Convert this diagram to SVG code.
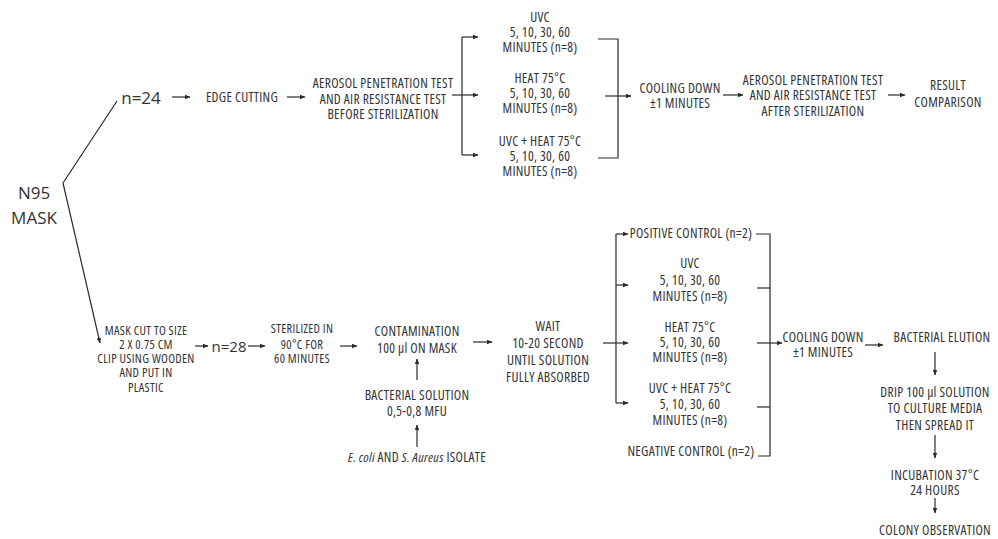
<svg xmlns="http://www.w3.org/2000/svg" width="998" height="539" viewBox="0 0 998 539">
<defs>
<marker id="ah" markerWidth="6" markerHeight="6" refX="5" refY="3" orient="auto" markerUnits="userSpaceOnUse"><path d="M0,0.8 L5.5,3 L0,5.2 z" fill="#2a2a2a"/></marker>
<style>
text{font-family:"Open Sans","DejaVu Sans",sans-serif;fill:#333;font-size:13.5px;font-stretch:75%;letter-spacing:0.3px;text-anchor:middle;dominant-baseline:central}
.big{font-size:17px;font-stretch:100%;letter-spacing:0}
.mid{font-size:15px}
.sm{font-size:12.5px}
line,polyline{stroke:#2a2a2a;stroke-width:1.2;fill:none}
.a{marker-end:url(#ah)}
</style>
</defs>
<rect width="998" height="539" fill="#fff"/>
<g id="connectors">
<polyline class="a" points="117,101 63,183 100,343"/>
<line class="a" x1="172" y1="97" x2="190" y2="97"/>
<line class="a" x1="287" y1="97" x2="305" y2="97"/>
<line x1="452" y1="95" x2="462" y2="95"/>
<line x1="462" y1="37" x2="462" y2="155"/>
<line class="a" x1="462" y1="37" x2="478" y2="37"/>
<line class="a" x1="462" y1="95" x2="478" y2="95"/>
<line class="a" x1="462" y1="155" x2="478" y2="155"/>
<polyline points="598,39 618,39 618,158 598,158"/>
<line class="a" x1="605" y1="96" x2="631" y2="96"/>
<line class="a" x1="723" y1="95" x2="743" y2="95"/>
<line class="a" x1="888" y1="95" x2="905" y2="95"/>
<line class="a" x1="195" y1="346" x2="208" y2="346"/>
<line class="a" x1="248" y1="346" x2="265" y2="346"/>
<line class="a" x1="340" y1="346" x2="357" y2="346"/>
<line class="a" x1="417" y1="380" x2="417" y2="359"/>
<line class="a" x1="417" y1="447" x2="417" y2="425"/>
<line class="a" x1="473" y1="342" x2="492" y2="342"/>
<line x1="603" y1="343" x2="616" y2="343"/>
<line x1="616" y1="234" x2="616" y2="403"/>
<line class="a" x1="616" y1="234" x2="628" y2="234"/>
<line class="a" x1="616" y1="285" x2="628" y2="285"/>
<line class="a" x1="616" y1="343" x2="628" y2="343"/>
<line class="a" x1="616" y1="403" x2="628" y2="403"/>
<polyline points="756,234 770,234 770,456 758,456"/>
<line x1="757" y1="288" x2="770" y2="288"/>
<line x1="757" y1="407" x2="770" y2="407"/>
<line class="a" x1="757" y1="343" x2="782" y2="343"/>
<line class="a" x1="865" y1="345" x2="883" y2="345"/>
<line class="a" x1="935" y1="352" x2="935" y2="375"/>
<line class="a" x1="935" y1="435" x2="935" y2="458"/>
<line class="a" x1="935" y1="498" x2="935" y2="513"/>
</g>
<g id="n95"><text class="big"><tspan x="34" y="192">N95</tspan><tspan x="34" y="217">MASK</tspan></text></g>
<g id="n24"><text class="big" x="141" y="97">n=24</text></g>
<g id="edge"><text x="242" y="97">EDGE CUTTING</text></g>
<g id="test-before"><text><tspan x="383" y="83">AEROSOL PENETRATION TEST</tspan><tspan x="383" y="99">AND AIR RESISTANCE TEST</tspan><tspan x="383" y="114">BEFORE STERILIZATION</tspan></text></g>
<g id="t-uvc"><text><tspan x="540" y="17">UVC</tspan><tspan x="540" y="32">5, 10, 30, 60</tspan><tspan x="540" y="47">MINUTES (n=8)</tspan></text></g>
<g id="t-heat"><text><tspan x="540" y="78">HEAT 75°C</tspan><tspan x="540" y="93">5, 10, 30, 60</tspan><tspan x="540" y="108">MINUTES (n=8)</tspan></text></g>
<g id="t-uvcheat"><text><tspan x="540" y="141">UVC + HEAT 75°C</tspan><tspan x="540" y="156">5, 10, 30, 60</tspan><tspan x="540" y="171">MINUTES (n=8)</tspan></text></g>
<g id="t-cool"><text><tspan x="680" y="88">COOLING DOWN</tspan><tspan x="680" y="103">±1 MINUTES</tspan></text></g>
<g id="test-after"><text><tspan x="813" y="80">AEROSOL PENETRATION TEST</tspan><tspan x="813" y="95">AND AIR RESISTANCE TEST</tspan><tspan x="813" y="111">AFTER STERILIZATION</tspan></text></g>
<g id="result"><text><tspan x="948" y="85">RESULT</tspan><tspan x="948" y="102">COMPARISON</tspan></text></g>
<g id="maskcut"><text class="sm"><tspan x="146" y="330">MASK CUT TO SIZE</tspan><tspan x="146" y="344">2 X 0.75 CM</tspan><tspan x="146" y="358">CLIP USING WOODEN</tspan><tspan x="146" y="372">AND PUT IN</tspan><tspan x="146" y="387">PLASTIC</tspan></text></g>
<g id="n28"><text class="big mid" x="229" y="346">n=28</text></g>
<g id="sterilized"><text class="sm"><tspan x="302" y="328">STERILIZED IN</tspan><tspan x="302" y="344">90°C FOR</tspan><tspan x="302" y="358">60 MINUTES</tspan></text></g>
<g id="contam"><text><tspan x="417" y="331">CONTAMINATION</tspan><tspan x="417" y="348">100 µl ON MASK</tspan></text></g>
<g id="solution"><text><tspan x="417" y="395">BACTERIAL SOLUTION</tspan><tspan x="417" y="411">0,5-0,8 MFU</tspan></text></g>
<g id="isolate"><text x="417" y="457"><tspan font-style="italic">E. coli</tspan> AND <tspan font-style="italic">S. Aureus</tspan> ISOLATE</text></g>
<g id="wait"><text><tspan x="548" y="326">WAIT</tspan><tspan x="548" y="343">10-20 SECOND</tspan><tspan x="548" y="360">UNTIL SOLUTION</tspan><tspan x="548" y="377">FULLY ABSORBED</tspan></text></g>
<g id="pos"><text x="691" y="233">POSITIVE CONTROL (n=2)</text></g>
<g id="b-uvc"><text><tspan x="690" y="263">UVC</tspan><tspan x="690" y="280">5, 10, 30, 60</tspan><tspan x="690" y="296">MINUTES (n=8)</tspan></text></g>
<g id="b-heat"><text><tspan x="690" y="327">HEAT 75°C</tspan><tspan x="690" y="342">5, 10, 30, 60</tspan><tspan x="690" y="357">MINUTES (n=8)</tspan></text></g>
<g id="b-uvcheat"><text><tspan x="690" y="388">UVC + HEAT 75°C</tspan><tspan x="690" y="404">5, 10, 30, 60</tspan><tspan x="690" y="420">MINUTES (n=8)</tspan></text></g>
<g id="neg"><text x="691" y="451">NEGATIVE CONTROL (n=2)</text></g>
<g id="b-cool"><text><tspan x="823" y="337">COOLING DOWN</tspan><tspan x="823" y="352">±1 MINUTES</tspan></text></g>
<g id="elution"><text x="942" y="337">BACTERIAL ELUTION</text></g>
<g id="drip"><text><tspan x="935" y="392">DRIP 100 µl SOLUTION</tspan><tspan x="935" y="408">TO CULTURE MEDIA</tspan><tspan x="935" y="425">THEN SPREAD IT</tspan></text></g>
<g id="incub"><text><tspan x="935" y="475">INCUBATION 37°C</tspan><tspan x="935" y="490">24 HOURS</tspan></text></g>
<g id="colony"><text x="935" y="530">COLONY OBSERVATION</text></g>
</svg>
